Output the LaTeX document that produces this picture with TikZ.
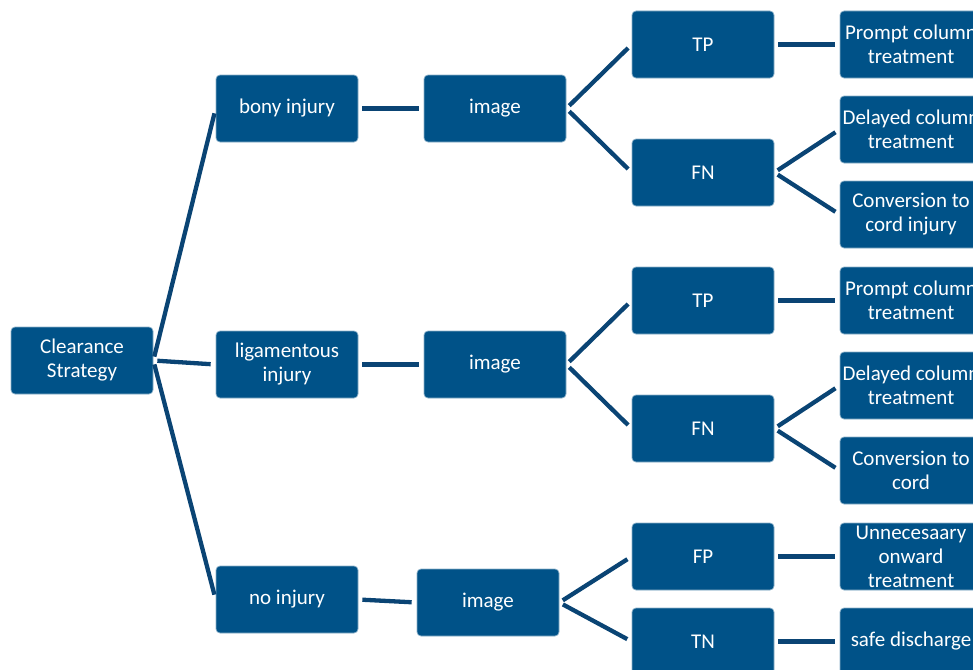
\documentclass[tikz,border=0pt]{standalone}
\usepackage{fontspec}
\setmainfont{Carlito}
\usetikzlibrary{calc}
\definecolor{boxblue}{RGB}{0,82,136}
\definecolor{lineblue}{RGB}{10,68,116}
\tikzset{
  box/.style={rectangle, rounded corners=4pt, fill=boxblue, draw=boxblue!45!white, line width=0.7pt,
    minimum width=142pt, minimum height=67pt, inner sep=0pt, align=center, text=white,
    font=\fontsize{21}{24}\selectfont},
  conn/.style={draw=lineblue, line width=4.3pt, line cap=butt, shorten <=4pt, shorten >=5pt}
}
\begin{document}
\begin{tikzpicture}[x=1pt,y=-1pt]
\useasboundingbox (0,0) rectangle (973,669);
\clip (0,0) rectangle (973,669);
% column 1
\node[box] (cs) at (82,360.5) {Clearance\\Strategy};
% column 2
\node[box] (bony) at (287,108.5) {bony injury};
\node[box] (lig) at (287,364.5) {ligamentous\\injury};
\node[box] (noi) at (287,599.5) {no injury};
% column 3
\node[box] (im1) at (495,108.5) {image};
\node[box] (im2) at (495,364.5) {image};
\node[box] (im3) at (488,602.5) {image};
% column 4
\node[box] (tp1) at (703,44.5) {TP};
\node[box] (fn1) at (703,172.5) {FN};
\node[box] (tp2) at (703,300.5) {TP};
\node[box] (fn2) at (703,428.5) {FN};
\node[box] (fp) at (703,556.5) {FP};
\node[box] (tn) at (703,641.5) {TN};
% column 5
\node[box] (pc1) at (911,44.5) {Prompt column\\treatment};
\node[box] (dc1) at (911,129.5) {Delayed column\\treatment};
\node[box] (cv1) at (911,214.5) {Conversion to\\cord injury};
\node[box] (pc2) at (911,300.5) {Prompt column\\treatment};
\node[box] (dc2) at (911,385.5) {Delayed column\\treatment};
\node[box] (cv2) at (911,470.5) {Conversion to\\cord};
\node[box] (un) at (911,556.5) {Unnecesaary\\onward\\treatment};
\node[box] (sd) at (911,641.5) {safe discharge};
% connectors
\draw[conn] (cs.east) -- (bony.west);
\draw[conn] (cs.east) -- (lig.west);
\draw[conn] (cs.east) -- (noi.west);
\draw[conn] (bony.east) -- (im1.west);
\draw[conn] (lig.east) -- (im2.west);
\draw[conn] (noi.east) -- (im3.west);
\draw[conn] (im1.east) -- (tp1.west);
\draw[conn] (im1.east) -- (fn1.west);
\draw[conn] (im2.east) -- (tp2.west);
\draw[conn] (im2.east) -- (fn2.west);
\draw[conn] (im3.east) -- (fp.west);
\draw[conn] (im3.east) -- (tn.west);
\draw[conn] (tp1.east) -- (pc1.west);
\draw[conn] (fn1.east) -- (dc1.west);
\draw[conn] (fn1.east) -- (cv1.west);
\draw[conn] (tp2.east) -- (pc2.west);
\draw[conn] (fn2.east) -- (dc2.west);
\draw[conn] (fn2.east) -- (cv2.west);
\draw[conn] (fp.east) -- (un.west);
\draw[conn] (tn.east) -- (sd.west);
\end{tikzpicture}
\end{document}
